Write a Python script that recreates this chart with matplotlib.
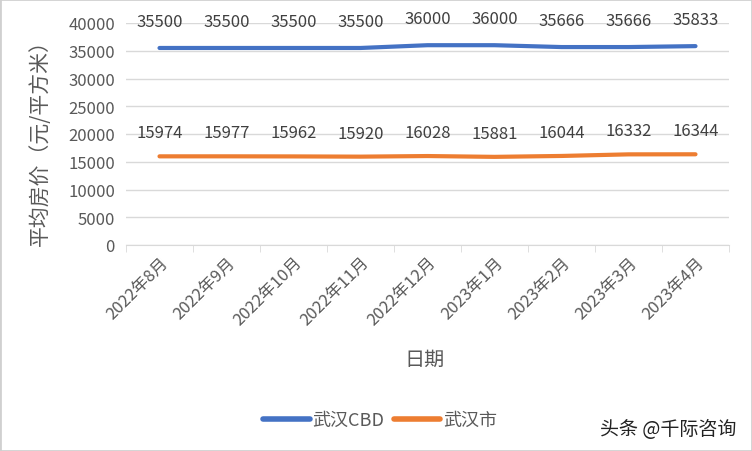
import matplotlib.pyplot as plt
from matplotlib.patches import Rectangle

plt.rcParams['font.family'] = ['Noto Sans CJK SC', 'DejaVu Sans']

months = ['2022年8月', '2022年9月', '2022年10月', '2022年11月', '2022年12月',
          '2023年1月', '2023年2月', '2023年3月', '2023年4月']
cbd = [35500, 35500, 35500, 35500, 36000, 36000, 35666, 35666, 35833]
city = [15974, 15977, 15962, 15920, 16028, 15881, 16044, 16332, 16344]

blue = '#4472C4'
orange = '#ED7D31'
grey = '#595959'

fig = plt.figure(figsize=(7.52, 4.52), dpi=100)
ax = fig.add_axes([126 / 752, 1 - 246 / 452, 603 / 752, 222 / 452])

x = list(range(len(months)))
ax.plot(x, cbd, color=blue, lw=3, solid_capstyle='round', label='武汉CBD')
ax.plot(x, city, color=orange, lw=3, solid_capstyle='round', label='武汉市')

for i in x:
    ax.annotate(str(cbd[i]), (i, cbd[i]), xytext=(0, 19), textcoords='offset points',
                ha='center', va='center', fontsize=12, color='#404040')
    ax.annotate(str(city[i]), (i, city[i]), xytext=(0, 17), textcoords='offset points',
                ha='center', va='center', fontsize=12, color='#404040')

ax.set_xlim(-0.5, len(months) - 0.5)
ax.set_ylim(0, 40000)
ax.set_yticks(range(0, 40001, 5000))
ax.tick_params(axis='y', length=0, labelsize=12, labelcolor=grey, pad=8)
ax.grid(axis='y', color='#D9D9D9', lw=1)
ax.set_axisbelow(True)

ax.set_xticks(x)
ax.set_xticklabels(months, rotation=45, ha='right', va='top', rotation_mode='anchor',
                   fontsize=12, color=grey)
ax.set_xticks([i - 0.5 for i in range(len(months) + 1)], minor=True)
ax.tick_params(axis='x', which='major', length=0, pad=6)
ax.tick_params(axis='x', which='minor', length=5, color='#D9D9D9')

for s in ['top', 'right', 'left']:
    ax.spines[s].set_visible(False)
ax.spines['bottom'].set_color('#D9D9D9')

fig.text(40 / 752, 1 - 138 / 452, '平均房价（元/平方米）', rotation=90, ha='center', va='center',
         fontsize=15, color=grey)
fig.text(425 / 752, 1 - 360 / 452, '日期', ha='center', va='center', fontsize=14.5, color=grey)

fig.legend(loc='center', bbox_to_anchor=(380 / 752, 1 - 421 / 452), ncol=2, frameon=False,
           fontsize=13, labelcolor=grey, handlelength=2.6, handletextpad=0.15, columnspacing=0.5)
for ln in fig.legends[0].get_lines():
    ln.set_linewidth(4)

fig.text(668 / 752, 1 - 430 / 452, '头条 @千际咨询', ha='center', va='center', fontsize=13.7,
         color='#222222')

fig.patches.append(Rectangle((0, 0), 1, 1, transform=fig.transFigure, fill=False,
                             edgecolor='#D0D0D0', lw=2))

fig.savefig('out.png', dpi=100)
